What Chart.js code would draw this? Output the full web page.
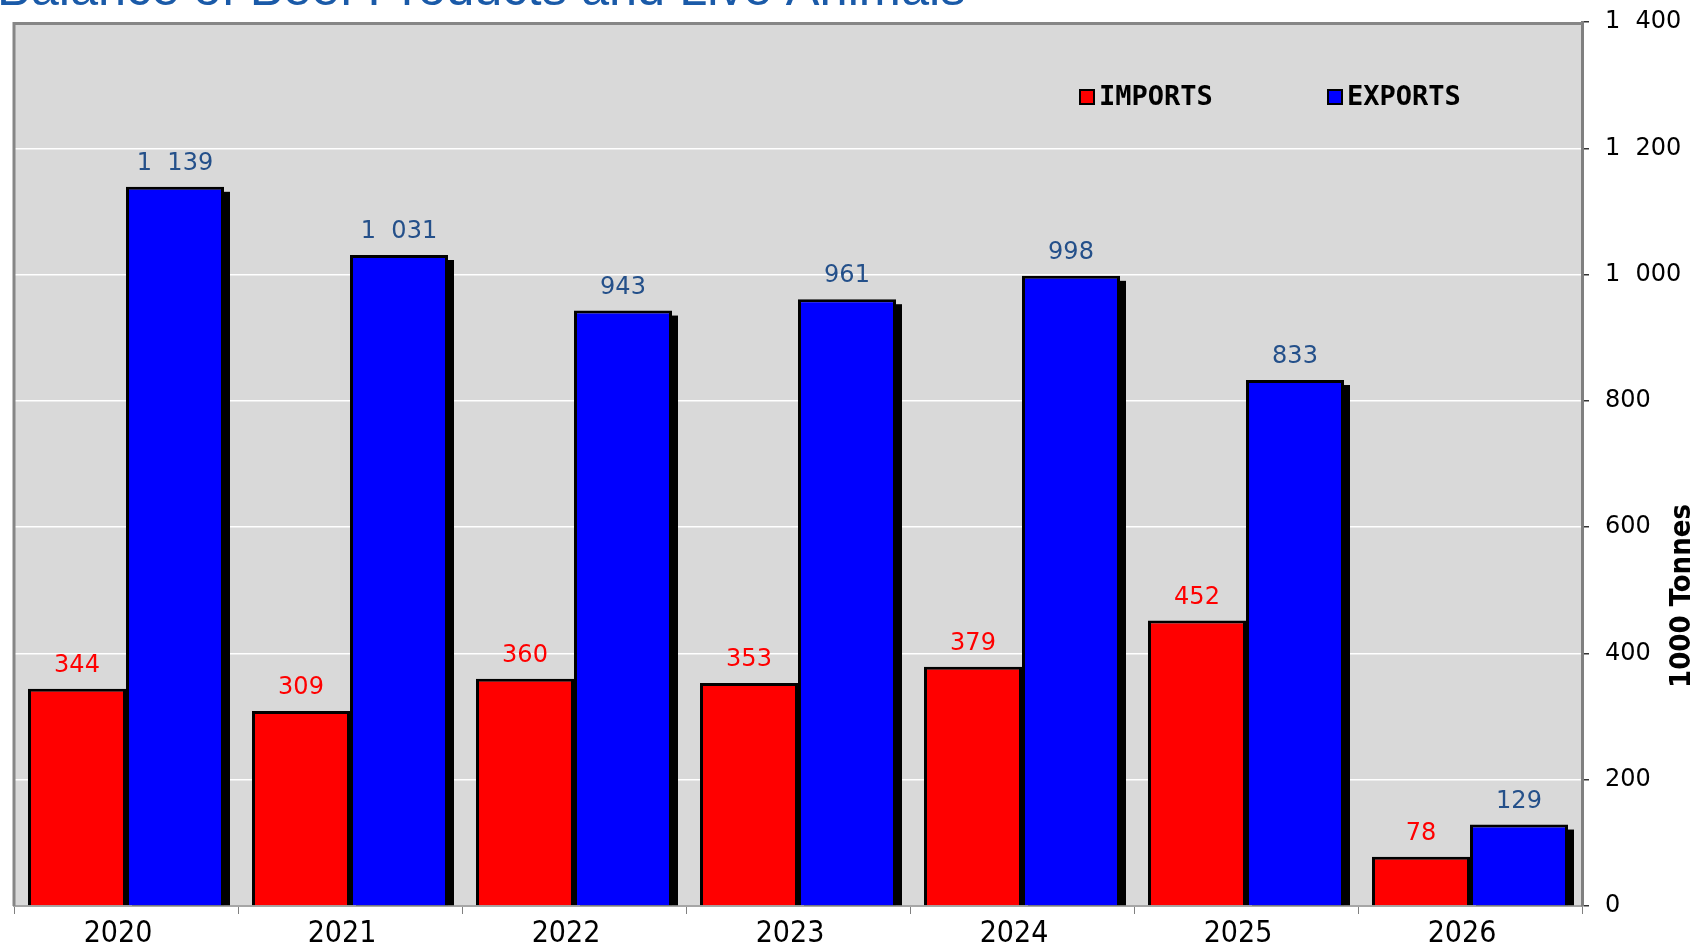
<!DOCTYPE html>
<html lang="en">
<head>
  <meta charset="UTF-8">
  <title>Balance of Beef Products and Live Animals</title>
  <script src="https://cdn.jsdelivr.net/npm/chart.js"></script>
  <style>
    body { margin: 0; background: #ffffff; }
    #wrap { width: 1698px; height: 950px; }
  </style>
</head>
<body>
<div id="wrap">
  <canvas id="beefChart" width="1698" height="950"></canvas>
</div>
<script>
  const years = ['2020', '2021', '2022', '2023', '2024', '2025', '2026'];
  const importValues = [344, 309, 360, 353, 379, 452, 78];
  const exportValues = [1139, 1031, 943, 961, 998, 833, 129];
  const seriesNames = ['IMPORTS', 'EXPORTS'];
  const yMax = 1400;
  const yStep = 200;

  const chartTitle = 'Balance of Beef Products and Live Animals';
  const axisTitle = '1000 Tonnes';

  // thousands with a wide gap, like "1  139"
  function fmt(v) {
    if (v >= 1000) {
      return Math.floor(v / 1000) + '  ' + String(v % 1000).padStart(3, '0');
    }
    return String(v);
  }

  const plotBackground = {
    id: 'plotBackground',
    beforeDraw(chart) {
      const {ctx, chartArea: a} = chart;
      ctx.save();
      ctx.fillStyle = '#d9d9d9';
      ctx.fillRect(a.left, a.top, a.right - a.left, a.bottom - a.top);
      ctx.restore();
    },
    beforeDatasetsDraw(chart) {
      const {ctx, chartArea: a} = chart;
      ctx.save();
      ctx.strokeStyle = '#868686';
      ctx.lineWidth = 3;
      ctx.beginPath();
      ctx.moveTo(a.left, a.bottom);
      ctx.lineTo(a.left, a.top + 1.5);
      ctx.lineTo(a.right, a.top + 1.5);
      ctx.stroke();
      ctx.restore();
    }
  };

  // black drop shadow behind the export bars
  const barShadow = {
    id: 'barShadow',
    beforeDatasetsDraw(chart) {
      const {ctx, chartArea: a} = chart;
      const meta = chart.getDatasetMeta(1);
      ctx.save();
      ctx.beginPath();
      ctx.rect(a.left, a.top, a.right - a.left, a.bottom - a.top);
      ctx.clip();
      ctx.fillStyle = '#000000';
      meta.data.forEach(bar => {
        const left = bar.x - bar.width / 2 + 6;
        const top = bar.y + 5;
        ctx.fillRect(left, top, bar.width, bar.base - top);
      });
      ctx.restore();
    }
  };

  const valueLabels = {
    id: 'valueLabels',
    afterDatasetsDraw(chart) {
      const {ctx} = chart;
      const colors = ['#ff0000', '#24508a'];
      ctx.save();
      ctx.font = '24px "DejaVu Sans"';
      ctx.textAlign = 'center';
      ctx.textBaseline = 'alphabetic';
      chart.data.datasets.forEach((ds, i) => {
        ctx.fillStyle = colors[i];
        chart.getDatasetMeta(i).data.forEach((bar, j) => {
          ctx.fillText(fmt(ds.data[j]), bar.x, bar.y - 17);
        });
      });
      ctx.restore();
    }
  };

  const extras = {
    id: 'extras',
    afterDraw(chart) {
      const {ctx} = chart;
      ctx.save();

      // title, partly cut off at the top like the original
      ctx.font = '50.5px "Liberation Sans", Arial, sans-serif';
      ctx.fillStyle = '#1a5aa8';
      ctx.textAlign = 'left';
      ctx.textBaseline = 'alphabetic';
      ctx.fillText(chartTitle, -3, 5);

      // legend inside the plot
      const legendX = [1080, 1328];
      ctx.font = 'bold 27px "DejaVu Sans Mono", monospace';
      ctx.textBaseline = 'middle';
      chart.data.datasets.forEach((ds, i) => {
        const x = legendX[i];
        const y = 97;
        ctx.fillStyle = ds.backgroundColor;
        ctx.fillRect(x, y - 7, 14, 14);
        ctx.strokeStyle = '#000000';
        ctx.lineWidth = 2;
        ctx.strokeRect(x, y - 7, 14, 14);
        ctx.fillStyle = '#000000';
        ctx.fillText(ds.label, x + 19, y + 1);
      });

      // axis title
      ctx.translate(1682, 596);
      ctx.rotate(-Math.PI / 2);
      ctx.font = 'bold 29px "DejaVu Sans Condensed", "DejaVu Sans", sans-serif';
      ctx.textAlign = 'center';
      ctx.textBaseline = 'middle';
      ctx.fillStyle = '#000000';
      ctx.fillText(axisTitle, 0, 0);
      ctx.restore();
    }
  };

  const ctx = document.getElementById('beefChart').getContext('2d');
  new Chart(ctx, {
    type: 'bar',
    data: {
      labels: years,
      datasets: [{
        label: seriesNames[0],
        data: importValues,
        backgroundColor: '#ff0000',
        borderColor: '#000000',
        borderWidth: 3,
        inflateAmount: 0,
        categoryPercentage: 0.875,
        barPercentage: 1.0
      }, {
        label: seriesNames[1],
        data: exportValues,
        backgroundColor: '#0000ff',
        borderColor: '#000000',
        borderWidth: 3,
        inflateAmount: 0,
        categoryPercentage: 0.875,
        barPercentage: 1.0
      }]
    },
    options: {
      responsive: false,
      animation: false,
      layout: {
        padding: {left: 14, top: 22, right: 0, bottom: 0}
      },
      plugins: {
        legend: {display: false},
        tooltip: {enabled: false}
      },
      scales: {
        x: {
          offset: true,
          grid: {
            display: true,
            drawOnChartArea: false,
            drawTicks: true,
            tickLength: 8,
            tickColor: '#808080'
          },
          border: {display: true, color: '#a6a6a6', width: 2},
          ticks: {
            color: '#000000',
            padding: 2,
            labelOffset: -8,
            font: {family: '"DejaVu Sans Condensed", "DejaVu Sans", sans-serif', size: 30}
          },
          afterFit(scale) {
            scale.height = 44;
            scale.paddingLeft = 0;
            scale.paddingRight = 0;
          }
        },
        y: {
          position: 'right',
          min: 0,
          max: yMax,
          grid: {
            color: '#ffffff',
            lineWidth: 1.5,
            drawTicks: true,
            tickLength: 7,
            tickColor: '#333333'
          },
          border: {display: true, color: '#808080', width: 3},
          ticks: {
            stepSize: yStep,
            color: '#000000',
            padding: 16,
            font: {family: '"DejaVu Sans", sans-serif', size: 24},
            callback: v => fmt(v)
          },
          afterFit(scale) {
            scale.width = 116;
            scale.paddingTop = 0;
            scale.paddingBottom = 0;
          }
        }
      }
    },
    plugins: [plotBackground, barShadow, valueLabels, extras]
  });
</script>
</body>
</html>
